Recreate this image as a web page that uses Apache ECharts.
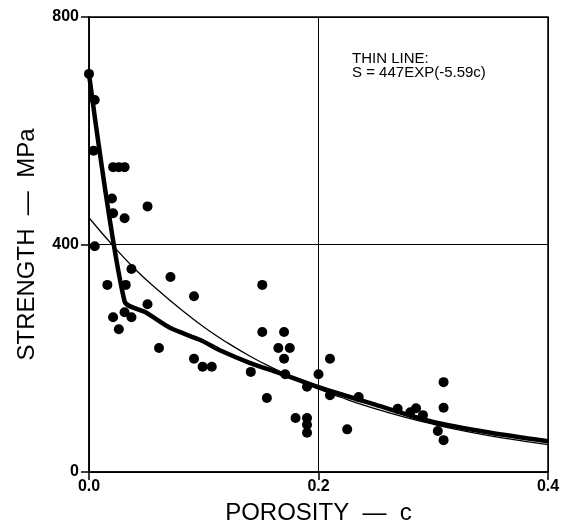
<!DOCTYPE html>
<html><head><meta charset="utf-8">
<script src="https://cdn.jsdelivr.net/npm/echarts@6/dist/echarts.min.js"></script>
<style>html,body{margin:0;padding:0;background:#fff}#c{width:564px;height:524px}</style>
</head><body><div id="c"></div>
<script>
// measured points: [porosity c, strength MPa]
var points = [
 [0.000,700],[0.005,654],[0.004,565],[0.021,536],[0.026,536],[0.031,536],
 [0.020,481],[0.051,467],[0.021,455],[0.031,446],[0.005,397],[0.037,357],
 [0.071,343],[0.016,329],[0.032,329],[0.0915,309],[0.051,295],[0.021,272],
 [0.031,281],[0.037,272],[0.026,251],[0.061,218],[0.0915,199],[0.099,185],
 [0.107,185],[0.151,329],[0.151,246],[0.170,246],[0.165,218],[0.175,218],
 [0.170,199],[0.141,176],[0.171,172],[0.210,199],[0.200,172],[0.190,150],
 [0.155,130],[0.210,135],[0.235,132],[0.180,95],[0.190,95],[0.190,83],
 [0.190,69],[0.225,75],[0.269,111],[0.280,105],[0.285,112],[0.291,100],
 [0.309,158],[0.309,113],[0.304,72],[0.309,56]
];
// thin line (S = 447 EXP(-5.59c))
var thinC = [0,0.02,0.04,0.06,0.08,0.10,0.12,0.14,0.16,0.18,0.20,0.22,0.24,0.26,0.28,0.30,0.32,0.34,0.36,0.38,0.40];
var thinS = [447,400,357,320,286,255,228,204,183,164,146,131,117,105,94,84,75,67,60,54,48];
// thick line read along its path
var thickC = [0,0.031,0.05,0.071,0.097,0.114,0.14,0.166,0.2,0.25,0.3,0.35,0.4];
var thickS = [700,300,280,253,232,214,192,174,149,118,88,69,54];
var xTicks = ['0.0','0.2','0.4'];

var thin = thinC.map(function(c,i){return [c,thinS[i]];});
var thick = thickC.map(function(c,i){return [c,thickS[i]];});

var chart = echarts.init(document.getElementById('c'));
chart.setOption({
  animation:false,
  grid:{left:89,top:17,right:16,bottom:52,outerBoundsMode:'none',containLabel:false,show:true,borderColor:'#000',borderWidth:1.5,backgroundColor:'transparent'},
  xAxis:{type:'value',min:0,max:0.4,interval:0.2,
    name:'POROSITY  \u2014  c',nameLocation:'middle',nameGap:29,
    nameTextStyle:{fontFamily:'Liberation Sans, Arial, sans-serif',fontSize:24,color:'#000'},
    axisLine:{show:true,lineStyle:{color:'#000',width:1.5}},
    axisTick:{show:true,inside:false,length:8,lineStyle:{color:'#000',width:1.5}},
    axisLabel:{margin:7,fontFamily:'Liberation Sans, Arial, sans-serif',fontSize:16,fontWeight:'bold',color:'#000',
      formatter:function(v){var i=Math.round(v/0.2);return xTicks[i];}},
    splitLine:{show:true,lineStyle:{color:'#000',width:1}}},
  yAxis:{type:'value',min:0,max:800,interval:400,
    name:'STRENGTH  \u2014  MPa',nameLocation:'middle',nameGap:50,nameRotate:90,
    nameTextStyle:{fontFamily:'Liberation Sans, Arial, sans-serif',fontSize:24,color:'#000'},
    axisLine:{show:true,lineStyle:{color:'#000',width:1.5}},
    axisTick:{show:true,inside:false,length:8,lineStyle:{color:'#000',width:1.5}},
    axisLabel:{margin:10,fontFamily:'Liberation Sans, Arial, sans-serif',fontSize:16,fontWeight:'bold',color:'#000'},
    splitLine:{show:true,lineStyle:{color:'#000',width:1}}},
  graphic:[
    {type:'text',left:352,top:51,style:{text:'THIN LINE:\nS = 447EXP(-5.59c)',fontFamily:'Liberation Sans Narrow, Arial Narrow, Liberation Sans, sans-serif',fontSize:15,lineHeight:14,fill:'#000'}}
  ],
  series:[
    {type:'line',data:thin,showSymbol:false,smooth:true,lineStyle:{color:'#000',width:1.3},z:3},
    {type:'line',data:thick,showSymbol:false,smooth:0.25,lineStyle:{color:'#000',width:4.5},z:4},
    {type:'scatter',data:points,symbol:'circle',symbolSize:10,itemStyle:{color:'#000',opacity:1},z:5}
  ]
});
</script></body></html>
